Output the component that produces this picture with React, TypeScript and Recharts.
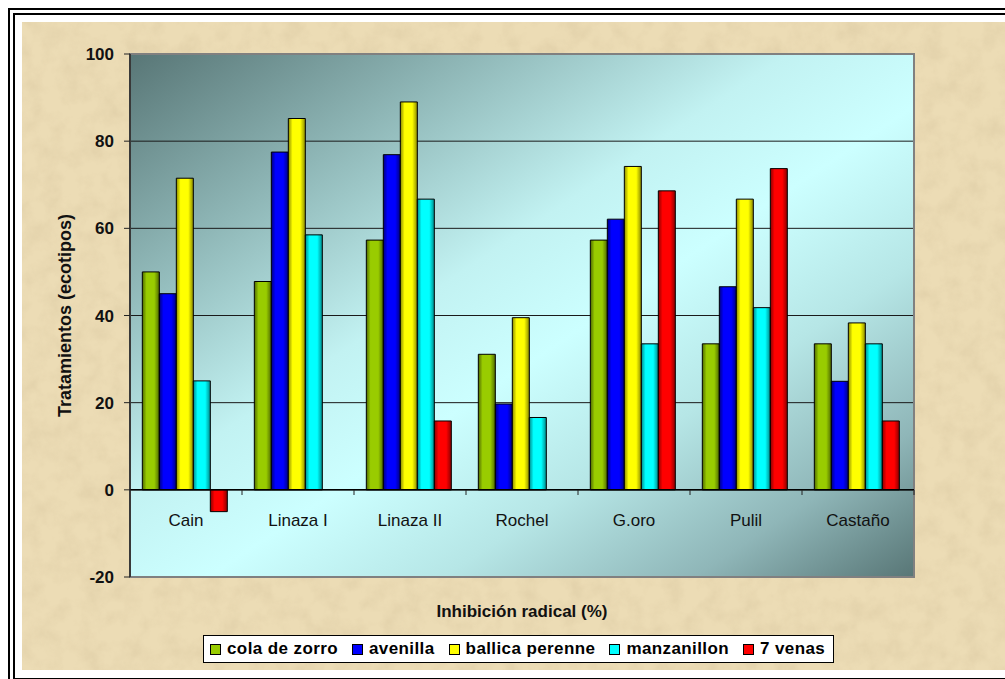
import React from "react";
import {
  BarChart,
  Bar,
  XAxis,
  YAxis,
  CartesianGrid,
  Legend,
  ReferenceLine,
  ReferenceArea,
} from "recharts";

const categories = ["Cain", "Linaza I", "Linaza II", "Rochel", "G.oro", "Pulil", "Castaño"];

const colaDeZorro = [50, 47.8, 57.3, 31.1, 57.3, 33.5, 33.5];
const avenilla = [45, 77.5, 76.9, 19.7, 62.1, 46.6, 24.9];
const ballicaPerenne = [71.5, 85.2, 89, 39.5, 74.2, 66.7, 38.3];
const manzanillon = [25, 58.5, 66.7, 16.6, 33.5, 41.8, 33.5];
const sieteVenas = [-5, null, 15.8, null, 68.6, 73.7, 15.8];

const yTicks = [-20, 0, 20, 40, 60, 80, 100];

const series = [
  { key: "cola", name: "cola de zorro", values: colaDeZorro, base: "#99cc00", dark: "#4f6a00" },
  { key: "avenilla", name: "avenilla", values: avenilla, base: "#0000ff", dark: "#000080" },
  { key: "ballica", name: "ballica perenne", values: ballicaPerenne, base: "#ffff00", dark: "#8a8a00" },
  { key: "manz", name: "manzanillon", values: manzanillon, base: "#00ffff", dark: "#008a8a" },
  { key: "venas", name: "7 venas", values: sieteVenas, base: "#ff0000", dark: "#8a0000" },
];

const data = categories.map((name, i) => {
  const row: Record<string, any> = { name };
  series.forEach((s) => {
    row[s.key] = s.values[i];
  });
  return row;
});

const FONT = '"Liberation Sans", Arial, sans-serif';

// category labels sit just under the zero line, like the original (axis crosses at 0)
const CategoryTick = (props: any) => {
  const { x, y, payload, width, visibleTicksCount } = props;
  const half = width && visibleTicksCount ? width / visibleTicksCount / 2 : 0;
  const zeroY = y - 95;
  return (
    <g>
      {half > 0 && (
        <line x1={x + half} x2={x + half} y1={zeroY} y2={zeroY + 5} stroke="#222" strokeWidth={1} />
      )}
      <text
        x={x}
        y={y - 65}
        textAnchor="middle"
        dominantBaseline="central"
        fontFamily={FONT}
        fontSize={17}
        fill="#111"
      >
        {payload.value}
      </text>
    </g>
  );
};

// legend keeps the series order of the original chart
const renderLegend = () => (
  <div
    style={{
      display: "inline-flex",
      alignItems: "center",
      background: "#fff",
      border: "1px solid #000",
      padding: "3px 8px 3px 6px",
      fontFamily: FONT,
      fontWeight: "bold",
      fontSize: 17,
      letterSpacing: 0.4,
      color: "#000",
      whiteSpace: "nowrap",
    }}
  >
    {series.map((s, i) => (
      <span key={s.key} style={{ display: "inline-flex", alignItems: "center", marginRight: i < 4 ? 14 : 0 }}>
        <span
          style={{
            display: "inline-block",
            width: 9,
            height: 9,
            border: "1px solid #000",
            background: s.base,
            marginRight: 6,
          }}
        />
        {s.name}
      </span>
    ))}
  </div>
);

export default function App() {
  return (
    <div
      style={{
        position: "absolute",
        left: 0,
        top: 0,
        width: 1005,
        height: 679,
        background: "#fff",
        overflow: "hidden",
      }}
    >
      <div style={{ position: "absolute", left: 8, top: 8, width: 1100, height: 1000, border: "2px solid #000" }} />
      <div style={{ position: "absolute", left: 13, top: 13, width: 1100, height: 663, border: "2px solid #000" }} />
      <svg style={{ position: "absolute", left: 22, top: 22 }} width={1000} height={648}>
        <defs>
          <filter id="parch" x="0" y="0" width="100%" height="100%">
            <feTurbulence type="fractalNoise" baseFrequency="0.05" numOctaves={4} seed={7} />
            <feColorMatrix
              type="matrix"
              values="0 0 0 0 0.62  0 0 0 0 0.5  0 0 0 0 0.3  0 0 0 1.1 -0.42"
            />
          </filter>
        </defs>
        <rect x={0} y={0} width={1000} height={648} fill="#ecdcb5" />
        <rect x={0} y={0} width={1000} height={648} filter="url(#parch)" opacity={0.5} />
      </svg>

      <svg width={0} height={0} style={{ position: "absolute" }}>
        <defs>
          <linearGradient id="plotBg" x1="0" y1="0" x2="1" y2="1">
            <stop offset="0" stopColor="#587676" />
            <stop offset="0.22" stopColor="#8fb7b7" />
            <stop offset="0.42" stopColor="#c2f2f2" />
            <stop offset="0.55" stopColor="#ccffff" />
            <stop offset="0.7" stopColor="#b6e6e6" />
            <stop offset="0.86" stopColor="#8fb6b8" />
            <stop offset="1" stopColor="#587676" />
          </linearGradient>
          {series.map((s) => (
            <linearGradient key={s.key} id={`g-${s.key}`} x1="0" y1="0" x2="1" y2="0">
              <stop offset="0" stopColor={s.dark} />
              <stop offset="0.25" stopColor={s.base} />
              <stop offset="0.7" stopColor={s.base} />
              <stop offset="1" stopColor={s.dark} />
            </linearGradient>
          ))}
        </defs>
      </svg>

      <div style={{ position: "absolute", left: 0, top: 0 }}>
        <BarChart
          width={1005}
          height={679}
          data={data}
          margin={{ top: 54, right: 91, left: 50, bottom: 72 }}
          barCategoryGap="11%"
          barGap={0}
        >
          <CartesianGrid
            vertical={false}
            stroke="#1a1a1a"
            fill="url(#plotBg)"
            fillOpacity={1}
          />
          <ReferenceArea y1={-20} y2={100} fill="none" stroke="#808080" strokeWidth={2} ifOverflow="visible" />
          <ReferenceLine y={0} stroke="#000" strokeWidth={1.5} />
          <XAxis
            dataKey="name"
            axisLine={false}
            tickLine={false}
            tick={<CategoryTick />}
            interval={0}
            height={30}
            label={{
              value: "Inhibición radical (%)",
              position: "bottom",
              offset: -2,
              style: { fontFamily: FONT, fontWeight: "bold", fontSize: 17, fill: "#111" },
            }}
          />
          <YAxis
            width={80}
            domain={[-20, 100]}
            ticks={yTicks}
            interval={0}
            axisLine={{ stroke: "#222", strokeWidth: 1.5 }}
            tickLine={{ stroke: "#222" }}
            tickSize={6}
            tickMargin={10}
            tick={{ fontFamily: FONT, fontWeight: "bold", fontSize: 17, fill: "#111" }}
            label={{
              value: "Tratamientos (ecotipos)",
              angle: -90,
              position: "insideLeft",
              offset: 15,
              style: { fontFamily: FONT, fontWeight: "bold", fontSize: 18, fill: "#111", textAnchor: "middle" },
            }}
          />
          {series.map((s) => (
            <Bar
              key={s.key}
              dataKey={s.key}
              name={s.name}
              fill={`url(#g-${s.key})`}
              stroke="#000"
              strokeWidth={1}
              isAnimationActive={false}
            />
          ))}
          <Legend
            layout="horizontal"
            verticalAlign="middle"
            align="center"
            content={renderLegend}
            wrapperStyle={{ top: 635, left: 203, width: "auto", height: "auto" }}
          />
        </BarChart>
      </div>
    </div>
  );
}
